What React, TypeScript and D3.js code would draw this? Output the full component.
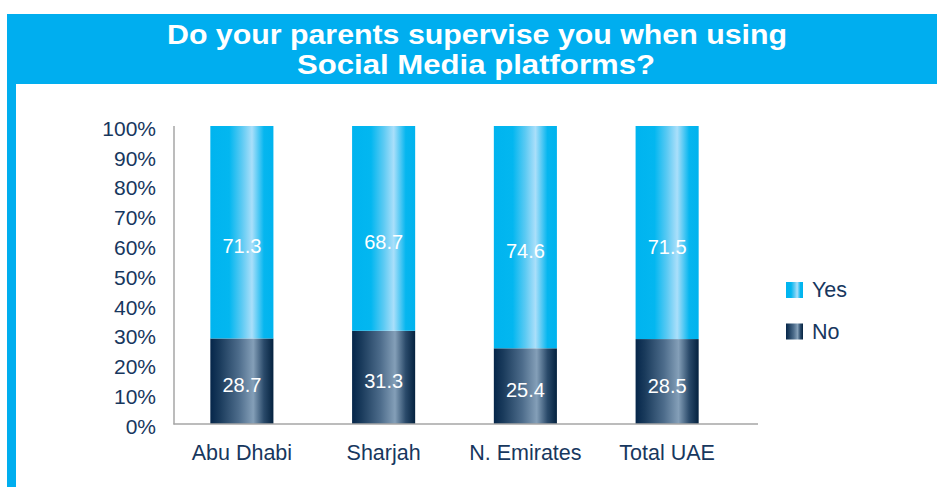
import React from "react";
import * as d3 from "d3";

const categories = ["Abu Dhabi", "Sharjah", "N. Emirates", "Total UAE"];
const noValues = [28.7, 31.3, 25.4, 28.5];
const yesValues = [71.3, 68.7, 74.6, 71.5];
const yTicks = [0, 10, 20, 30, 40, 50, 60, 70, 80, 90, 100];
const titleLines = ["Do your parents supervise you when using", "Social Media platforms?"];
const seriesNames = ["Yes", "No"];

const W = 937;
const H = 487;
const NAVY = "#17375e";
const FONT = "'Liberation Sans', Arial, Helvetica, sans-serif";

export default function App() {
  const x = d3
    .scaleBand<string>()
    .domain(categories)
    .range([171, 738])
    .paddingInner(0.555)
    .paddingOuter(0.2775);
  const y = d3.scaleLinear().domain([0, 100]).range([424, 126]);

  const rows = categories.map((c, i) => ({ cat: c, No: noValues[i], Yes: yesValues[i] }));
  const stack = d3.stack<any>().keys(["No", "Yes"]);
  const series = stack(rows);

  const gradId = (k: string) => (k === "Yes" ? "gradYes" : "gradNo");
  const labelOffset: Record<string, number> = { Yes: 14, No: 4 };

  return (
    <svg
      width={W}
      height={H}
      style={{ position: "fixed", left: 0, top: 0, background: "#fff" }}
      fontFamily={FONT}
    >
      <defs>
        <linearGradient id="gradYes" x1="0" x2="1" y1="0" y2="0">
          <stop offset="0" stopColor="#00b4ef" />
          <stop offset="0.3" stopColor="#03b7f0" />
          <stop offset="0.5" stopColor="#5ccaf3" />
          <stop offset="0.66" stopColor="#aadffa" />
          <stop offset="0.85" stopColor="#06b6ef" />
          <stop offset="1" stopColor="#00b3ee" />
        </linearGradient>
        <linearGradient id="gradNo" x1="0" x2="1" y1="0" y2="0">
          <stop offset="0" stopColor="#05264a" />
          <stop offset="0.15" stopColor="#1a3b5c" />
          <stop offset="0.45" stopColor="#4d6c8b" />
          <stop offset="0.68" stopColor="#849fb8" />
          <stop offset="0.85" stopColor="#2a4a6a" />
          <stop offset="1" stopColor="#04223f" />
        </linearGradient>
      </defs>

      {/* header */}
      <rect x={7} y={14} width={W - 7} height={70} fill="#00aeef" />
      <rect x={7} y={14} width={9} height={H - 14} fill="#00aeef" />
      <text
        x={477}
        y={44}
        textAnchor="middle"
        fill="#fff"
        fontWeight="bold"
        fontSize={28}
        textLength={620}
        lengthAdjust="spacingAndGlyphs"
      >
        {titleLines[0]}
      </text>
      <text
        x={476}
        y={74}
        textAnchor="middle"
        fill="#fff"
        fontWeight="bold"
        fontSize={28}
        textLength={358}
        lengthAdjust="spacingAndGlyphs"
      >
        {titleLines[1]}
      </text>

      {/* y tick labels */}
      {yTicks.map((t) => (
        <text
          key={t}
          x={156}
          y={y(t) + 9.7}
          textAnchor="end"
          fill={NAVY}
          fontSize={21}
        >
          {t + "%"}
        </text>
      ))}

      {/* bars */}
      {series.map((s) => (
        <g key={s.key}>
          {s.map((d, i) => {
            const x0 = x(categories[i]) as number;
            const bw = x.bandwidth();
            const top = y(d[1]);
            const bot = y(d[0]);
            const v = d[1] - d[0];
            return (
              <g key={i}>
                <rect x={x0} y={top} width={bw} height={bot - top} fill={`url(#${gradId(s.key)})`} />
                <text
                  x={x0 + bw / 2}
                  y={(top + bot) / 2 + labelOffset[s.key] + 7}
                  textAnchor="middle"
                  fill="#fff"
                  fontSize={20}
                >
                  {v.toFixed(1)}
                </text>
              </g>
            );
          })}
        </g>
      ))}

      {/* axes */}
      <line x1={174} x2={174} y1={126} y2={424.5} stroke="#a6a6a6" strokeWidth={1.5} />
      <line x1={173.5} x2={758} y1={424} y2={424} stroke="#a6a6a6" strokeWidth={1.5} />

      {/* category labels */}
      {categories.map((c) => (
        <text
          key={c}
          x={(x(c) as number) + x.bandwidth() / 2}
          y={460}
          textAnchor="middle"
          fill={NAVY}
          fontSize={21.5}
        >
          {c}
        </text>
      ))}

      {/* legend */}
      {seriesNames.map((n, i) => (
        <g key={n} transform={`translate(786, ${282 + i * 41.5})`}>
          <rect x={0} y={0} width={17} height={16} fill={`url(#${gradId(n)})`} />
          <text x={26} y={15} fill={NAVY} fontSize={21.5}>
            {n}
          </text>
        </g>
      ))}
    </svg>
  );
}
